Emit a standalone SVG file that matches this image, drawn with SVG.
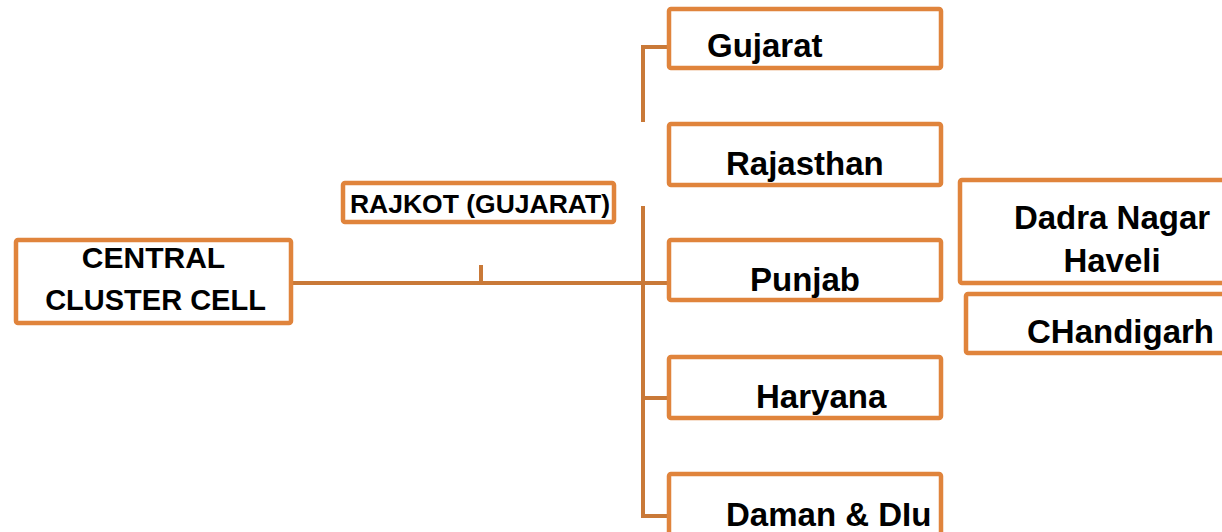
<svg xmlns="http://www.w3.org/2000/svg" width="1222" height="532" viewBox="0 0 1222 532">
<style>
.box{fill:#fff;stroke:#E0843C;stroke-width:4.5}
.t{font-family:"Liberation Sans",Arial,sans-serif;font-weight:bold;fill:#000;font-size:33px}
.c{stroke:#C97938;stroke-width:4;fill:none}
</style>
<rect width="1222" height="532" fill="#fff"/>
<g id="connectors">
<line class="c" x1="291" y1="283" x2="669" y2="283"/>
<line class="c" x1="481" y1="265" x2="481" y2="283"/>
<line class="c" x1="643" y1="206" x2="643" y2="518"/>
<line class="c" x1="643" y1="398" x2="669" y2="398"/>
<line class="c" x1="641" y1="516" x2="669" y2="516"/>
<polyline class="c" points="643,122 643,47 669,47"/>
</g>
<g id="central">
<rect class="box" x="16" y="240" width="275" height="83" rx="2"/>
<text class="t" style="font-size:30px" x="153.5" y="268" text-anchor="middle">CENTRAL</text>
<text class="t" style="font-size:29px" x="155.5" y="310" text-anchor="middle">CLUSTER CELL</text>
</g>
<g id="rajkot">
<rect class="box" x="343" y="183" width="271" height="39" rx="2"/>
<text class="t" style="font-size:26.5px" x="480" y="213" text-anchor="middle">RAJKOT (GUJARAT)</text>
</g>
<g id="gujarat">
<rect class="box" x="669" y="9" width="272" height="59" rx="2"/>
<text class="t" x="707" y="57">Gujarat</text>
</g>
<g id="rajasthan">
<rect class="box" x="669" y="124" width="272" height="61" rx="2"/>
<text class="t" x="726" y="175">Rajasthan</text>
</g>
<g id="punjab">
<rect class="box" x="669" y="240" width="272" height="60" rx="2"/>
<text class="t" x="750" y="291">Punjab</text>
</g>
<g id="haryana">
<rect class="box" x="669" y="357" width="272" height="61" rx="2"/>
<text class="t" x="756" y="408">Haryana</text>
</g>
<g id="daman">
<rect class="box" x="669" y="474" width="272" height="70" rx="2"/>
<text class="t" x="726" y="526">Daman &amp; DIu</text>
</g>
<g id="dadra">
<rect class="box" x="960" y="180" width="270" height="103" rx="2"/>
<text class="t" x="1112" y="229" text-anchor="middle">Dadra Nagar</text>
<text class="t" x="1112" y="272" text-anchor="middle">Haveli</text>
</g>
<g id="chandigarh">
<rect class="box" x="966" y="294" width="264" height="59" rx="2"/>
<text class="t" x="1027" y="343">CHandigarh</text>
</g>
</svg>
